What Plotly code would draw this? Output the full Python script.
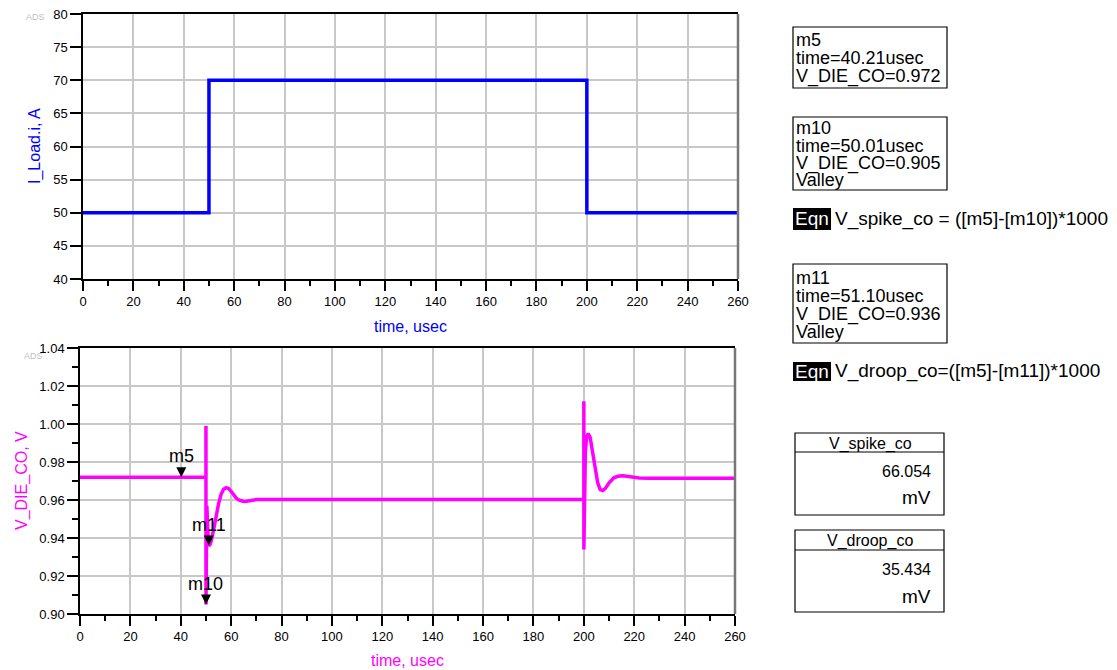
import plotly.graph_objects as go

# ---------------- data ----------------
current_time = [0, 50, 50, 200, 200, 260]
current_amps = [50, 50, 70, 70, 50, 50]

die_time = [0, 50.0, 50.0, 50.01, 50.35, 50.7, 51.1, 51.6, 52.0, 53.0, 54.0, 55.0, 56.0, 57.0,
            58.0, 59.0, 60.0, 61.0, 62.0, 63.0, 64.0, 65.0, 66.0, 68.0, 70.0, 74.0, 80.0,
            200.0, 200.0, 200.01, 200.6, 201.0, 201.7, 202.5, 203.5, 204.5, 205.5, 206.5,
            207.5, 208.5, 210.0, 212.0, 214.0, 215.5, 217.0, 219.0, 222.0, 226.0, 260.0]
die_volt = [0.972, 0.972, 0.999, 0.905, 0.957, 0.945, 0.936, 0.9365, 0.938, 0.944, 0.952, 0.958,
            0.963, 0.9657, 0.9665, 0.966, 0.9645, 0.9625, 0.961, 0.960, 0.9594, 0.9592, 0.9593,
            0.9598, 0.9602, 0.9603, 0.9602, 0.9602, 1.012, 0.934, 0.985, 0.992, 0.995, 0.993,
            0.985, 0.976, 0.969, 0.9655, 0.9650, 0.966, 0.969, 0.9718, 0.9726, 0.9727, 0.9724,
            0.972, 0.9716, 0.9715, 0.9715]

marker_names = ["m5", "m10", "m11"]
marker_time = [40.21, 50.01, 51.10]
marker_volt = [0.972, 0.905, 0.936]
marker_kind = ["", "Valley", "Valley"]

x_ticks = [0, 20, 40, 60, 80, 100, 120, 140, 160, 180, 200, 220, 240, 260]
eqn_spike = "V_spike_co = ([m5]-[m10])*1000"
eqn_droop = "V_droop_co=([m5]-[m11])*1000"
spike_value = "66.054"
droop_value = "35.434"

# ---------------- layout helpers ----------------
OFF = 8                      # default page (body) margin around the figure
W, H = 1117 - OFF, 670 - OFF
FONT = "Liberation Sans, Arial, sans-serif"


def px(x):
    return (x - OFF) / W


def py(y):
    return 1 - (y - OFF) / H


BLUE = "#0000ff"
MAG = "#ff00ff"
GRID = "#c8c8c8"

fig = go.Figure()
fig.add_trace(go.Scatter(x=current_time, y=current_amps, mode="lines",
                         line=dict(color=BLUE, width=3.5), xaxis="x", yaxis="y",
                         showlegend=False))
fig.add_trace(go.Scatter(x=die_time, y=die_volt, mode="lines",
                         line=dict(color=MAG, width=3.5), xaxis="x2", yaxis="y2",
                         showlegend=False))
fig.add_trace(go.Scatter(x=marker_time, y=marker_volt, mode="markers",
                         marker=dict(symbol="arrow-down", size=10, color="black"),
                         xaxis="x2", yaxis="y2", showlegend=False))

xcommon = dict(range=[0, 260], tickvals=x_ticks, ticks="outside", ticklen=10, tickwidth=1.5,
               tickcolor="black", showline=True, linecolor="black", linewidth=1.5, mirror=True,
               showgrid=True, gridcolor=GRID, gridwidth=1.5, zeroline=False, automargin=False,
               ticklabeloverflow="allow",
               tickfont=dict(family=FONT, size=13, color="black"),
               minor=dict(dtick=10, ticks="outside", ticklen=5, tickwidth=1.5, tickcolor="black",
                          showgrid=False))

fig.update_layout(
    width=W, height=H, autosize=False,
    margin=dict(l=0, r=0, t=0, b=0),
    paper_bgcolor="white", plot_bgcolor="white",
    xaxis=dict(domain=[px(83), px(738)], anchor="y", **xcommon),
    yaxis=dict(domain=[py(279), py(14)], anchor="x", range=[40, 80], dtick=5, ticks="outside",
               ticklen=11, tickwidth=1.5, tickcolor="black", showline=True, linecolor="black",
               linewidth=1.5, showgrid=True, gridcolor=GRID, gridwidth=1.5, zeroline=False,
               automargin=False, ticklabeloverflow="allow",
               tickfont=dict(family=FONT, size=13, color="black")),
    xaxis2=dict(domain=[px(80), px(735)], anchor="y2", **xcommon),
    yaxis2=dict(domain=[py(614), py(348)], anchor="x2", range=[0.90, 1.04], dtick=0.02,
                tickformat=".2f", ticks="outside", ticklen=11, tickwidth=1.5, tickcolor="black",
                showline=True, linecolor="black", linewidth=1.5, showgrid=True, gridcolor=GRID,
                gridwidth=1.5, zeroline=False, automargin=False, ticklabeloverflow="allow",
                tickfont=dict(family=FONT, size=13, color="black"),
                minor=dict(dtick=0.01, ticks="outside", ticklen=6, tickwidth=1.5,
                           tickcolor="black", showgrid=False)),
)

shapes = []
# gray right borders
for xr, yr in (("x", "y"), ("x2", "y2")):
    shapes.append(dict(type="line", xref=f"{xr} domain", yref=f"{yr} domain", x0=1, x1=1,
                       y0=0, y1=1, line=dict(color="#777777", width=2.5)))

annotations = []


def text(x, y, s, size=18, color="black", xanchor="left", **kw):
    annotations.append(dict(xref="paper", yref="paper", x=px(x), y=py(y), text=s,
                            showarrow=False, xanchor=xanchor, yanchor="middle",
                            font=dict(family=FONT, size=size, color=color), **kw))


# axis titles
text(35, 146, "I_Load.i, A", size=16, color=BLUE, xanchor="center", textangle=-90)
text(410, 327, "time, usec", size=16, color=BLUE, xanchor="center")
text(22, 481, "V_DIE_CO, V", size=16, color=MAG, xanchor="center", textangle=-90)
text(407, 660, "time, usec", size=16, color=MAG, xanchor="center")

# ADS logos
text(35, 17, "ADS", size=9, color="#c0c0c0", xanchor="center")
text(33, 356, "ADS", size=9, color="#c0c0c0", xanchor="center")

# marker labels on plot
for name, t, v in zip(marker_names, marker_time, marker_volt):
    annotations.append(dict(xref="x2", yref="y2", x=t, y=v, text=name, showarrow=False,
                            xanchor="center", yanchor="bottom", yshift=9,
                            font=dict(family=FONT, size=18, color="black")))

# marker readout boxes
boxes = [(27, 88, [40, 58, 76]), (117, 190, [128, 146, 163, 180]), (264, 343, [278, 296, 314, 332])]
for (top, bot, ys), name, t, v, kind in zip(boxes, marker_names, marker_time, marker_volt, marker_kind):
    shapes.append(dict(type="rect", xref="paper", yref="paper", x0=px(793), x1=px(947),
                       y0=py(bot), y1=py(top), line=dict(color="black", width=1.2)))
    lines = [name, f"time={t:.2f}usec", f"V_DIE_CO={v:.3f}"]
    if kind:
        lines.append(kind)
    for yy, s in zip(ys, lines):
        text(794, yy, s)

# equations
for (y0, y1, eq) in ((208, 230, eqn_spike), (362, 381, eqn_droop)):
    shapes.append(dict(type="rect", xref="paper", yref="paper", x0=px(793), x1=px(831),
                       y0=py(y1), y1=py(y0), fillcolor="black", line=dict(width=0)))
    text(812, (y0 + y1) / 2, "Eqn", size=19, color="white", xanchor="center")
    text(833, (y0 + y1) / 2, eq, size=19)

# value boxes
for (top, hdr, bot, title, val, yv, ym) in ((433, 452, 515, "V_spike_co", spike_value, 471, 497),
                                            (530, 550, 612, "V_droop_co", droop_value, 569, 596)):
    shapes.append(dict(type="rect", xref="paper", yref="paper", x0=px(795), x1=px(944),
                       y0=py(bot), y1=py(top), line=dict(color="black", width=1.2)))
    shapes.append(dict(type="line", xref="paper", yref="paper", x0=px(795), x1=px(944),
                       y0=py(hdr), y1=py(hdr), line=dict(color="black", width=1.2)))
    text(870, (top + hdr) / 2 + 1, title, size=16, xanchor="center")
    text(933, yv, val, size=16, xanchor="right")
    text(933, ym, "mV", size=19, xanchor="right")

fig.update_layout(shapes=shapes, annotations=annotations)
fig.write_html("out.html")
